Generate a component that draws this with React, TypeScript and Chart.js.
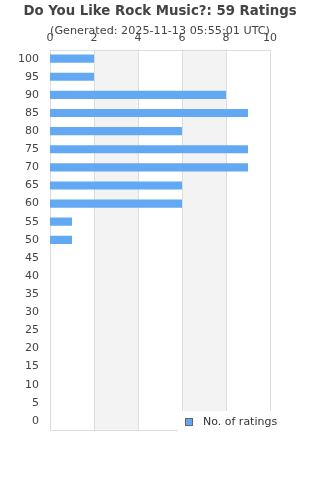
import React, { useEffect, useRef } from "react";
import { Chart, registerables } from "chart.js";
Chart.register(...registerables);

const categories = ["100","95","90","85","80","75","70","65","60","55","50","45","40","35","30","25","20","15","10","5","0"];
const ratings = [2,2,8,9,6,9,9,6,6,1,1,0,0,0,0,0,0,0,0,0,0];
const xTicks = [0,2,4,6,8,10];
const titleText = "Do You Like Rock Music?: 59 Ratings";
const subtitleText = "(Generated: 2025-11-13 05:55:01 UTC)";
const legendLabel = "No. of ratings";
const bands = [[2,4],[6,8]];

const FONT = "'DejaVu Sans', sans-serif";
const BAR = "#62a8f3";

const decor = {
  id: "decor",
  beforeDatasetsDraw(chart: any) {
    const { ctx, chartArea: a, scales } = chart;
    const x = scales.x;
    ctx.save();
    ctx.fillStyle = "#f3f3f3";
    for (const [s, e] of bands) {
      const x0 = x.getPixelForValue(s), x1 = x.getPixelForValue(e);
      ctx.fillRect(x0, a.top, x1 - x0, a.bottom - a.top);
    }
    ctx.strokeStyle = "#dddddd";
    ctx.lineWidth = 1;
    for (const t of xTicks) {
      const px = Math.round(x.getPixelForValue(t)) + 0.5;
      ctx.beginPath(); ctx.moveTo(px, a.top); ctx.lineTo(px, a.bottom); ctx.stroke();
    }
    ctx.strokeRect(Math.round(a.left) + 0.5, Math.round(a.top) + 0.5, Math.round(a.right - a.left), Math.round(a.bottom - a.top));
    ctx.restore();
  },
  afterDraw(chart: any) {
    const { ctx } = chart;
    ctx.save();
    ctx.fillStyle = "#ffffff";
    ctx.fillRect(178, 411, 142, 30);
    ctx.fillStyle = BAR;
    ctx.fillRect(185.5, 418.5, 7, 7);
    ctx.strokeStyle = "#666666";
    ctx.lineWidth = 1;
    ctx.strokeRect(185.5, 418.5, 7, 7);
    ctx.fillStyle = "#333333";
    ctx.font = `11px ${FONT}`;
    ctx.textBaseline = "middle";
    ctx.fillText(legendLabel, 203, 422.5);
    ctx.restore();
  },
};

export default function App() {
  const ref = useRef<HTMLCanvasElement>(null);
  useEffect(() => {
    document.body.style.margin = "0";
    const chart = new Chart(ref.current!, {
      type: "bar",
      data: {
        labels: categories,
        datasets: [{ label: legendLabel, data: ratings, backgroundColor: BAR, borderWidth: 0, categoryPercentage: 0.9, barPercentage: 0.5 }],
      },
      options: {
        indexAxis: "y",
        animation: false,
        responsive: false,
        layout: { padding: 0 },
        plugins: {
          legend: { display: false },
          tooltip: { enabled: false },
          title: { display: true, text: titleText, color: "#444444", font: { family: FONT, size: 13.3, weight: "bold" }, padding: { top: 4, bottom: 4 } },
          subtitle: { display: true, text: subtitleText, color: "#444444", font: { family: FONT, size: 11.2 }, padding: { top: 0, bottom: -11 } },
        },
        scales: {
          x: {
            position: "top", min: 0, max: 10,
            ticks: { stepSize: 2, color: "#444444", font: { family: FONT, size: 11 }, padding: 5 },
            grid: { display: false, drawTicks: false },
            border: { display: false },
          },
          y: {
            ticks: { color: "#444444", font: { family: FONT, size: 11 }, padding: 11 },
            grid: { display: false, drawTicks: false },
            border: { display: false },
            afterFit: (s: any) => { s.width = 50; },
          },
          yPad: {
            type: "linear", position: "right", display: true,
            ticks: { display: false }, grid: { display: false, drawTicks: false }, border: { display: false },
            afterFit: (s: any) => { s.width = 50; },
          },
          xPad: {
            type: "linear", position: "bottom", display: true,
            ticks: { display: false }, grid: { display: false, drawTicks: false }, border: { display: false },
            afterFit: (s: any) => { s.height = 50; },
          },
        },
      },
      plugins: [decor],
    });
    return () => chart.destroy();
  }, []);
  return <canvas ref={ref} width={320} height={480} style={{ display: "block" }} />;
}
